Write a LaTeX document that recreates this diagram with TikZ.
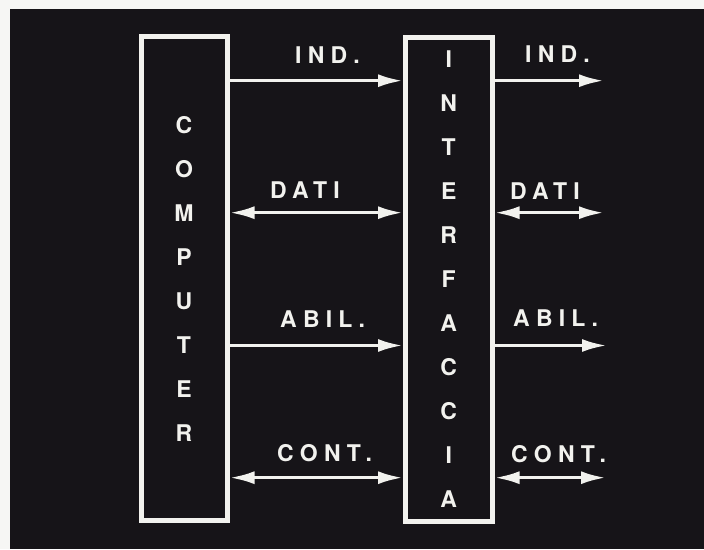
\documentclass[tikz,border=0pt]{standalone}
\usepackage{fontspec}
\setmainfont{TeX Gyre Heros}
\usetikzlibrary{arrows.meta}
\definecolor{bg}{RGB}{22,20,24}
\definecolor{ink}{RGB}{242,242,238}
\definecolor{paper}{RGB}{246,246,244}
\tikzset{
  box/.style={draw=ink, line width=5pt, minimum width=86pt, text=ink, align=center,
    font={\fontsize{23}{44}\selectfont\bfseries}},
  wire/.style={draw=ink, line width=3.5pt, -{Latex[length=25pt,width=13pt]}},
  wire2/.style={draw=ink, line width=3.5pt, {Latex[length=25pt,width=13pt]}-{Latex[length=25pt,width=13pt]}},
  lab/.style={text=ink, anchor=base west, inner sep=0pt,
    font={\fontsize{23}{27}\selectfont\bfseries\addfontfeatures{LetterSpace=27}}}
}
\begin{document}
\begin{tikzpicture}[x=1pt,y=1pt]
\useasboundingbox (0,0) rectangle (704,549);
\fill[paper] (0,0) rectangle (704,549);
\fill[bg] (10,0) rectangle (704,540);
% boxes
\node[box, minimum height=483pt] (comp) at (184,270.5) {C\\O\\M\\P\\U\\T\\E\\R};
\node[box, minimum height=484pt, minimum width=86.5pt] (intf) at (448.75,269.5) {I\\N\\T\\E\\R\\F\\A\\C\\C\\I\\A};
% levels
\coordinate (yind) at (0,468.3);
\coordinate (ydat) at (0,336.3);
\coordinate (yabl) at (0,203.5);
\coordinate (ycon) at (0,71.3);
\coordinate (oind) at (604,468.3);
\coordinate (odat) at (604,336.3);
\coordinate (oabl) at (607,203.5);
\coordinate (ocon) at (606,71.3);
% left connectors
\draw[wire] (comp.east |- yind) -- (intf.west |- yind);
\draw[wire2] (comp.east |- ydat) -- (intf.west |- ydat);
\draw[wire] (comp.east |- yabl) -- (intf.west |- yabl);
\draw[wire2] (comp.east |- ycon) -- (intf.west |- ycon);
% right connectors
\draw[wire] (intf.east |- oind) -- (oind);
\draw[wire2] (intf.east |- odat) -- (odat);
\draw[wire] (intf.east |- oabl) -- (oabl);
\draw[wire2] (intf.east |- ocon) -- (ocon);
% labels
\node[lab] (l1) at (295,485.7) {IND.};
\node[lab] (l2) at (270,350) {DATI};
\node[lab] (l3) at (280,221.7) {ABIL.};
\node[lab] (l4) at (277,87) {CONT.};
\node[lab] (r1) at (525,486) {IND.};
\node[lab] (r2) at (510,349) {DATI};
\node[lab] (r3) at (513,222) {ABIL.};
\node[lab] (r4) at (511,86) {CONT.};
\end{tikzpicture}
\end{document}
